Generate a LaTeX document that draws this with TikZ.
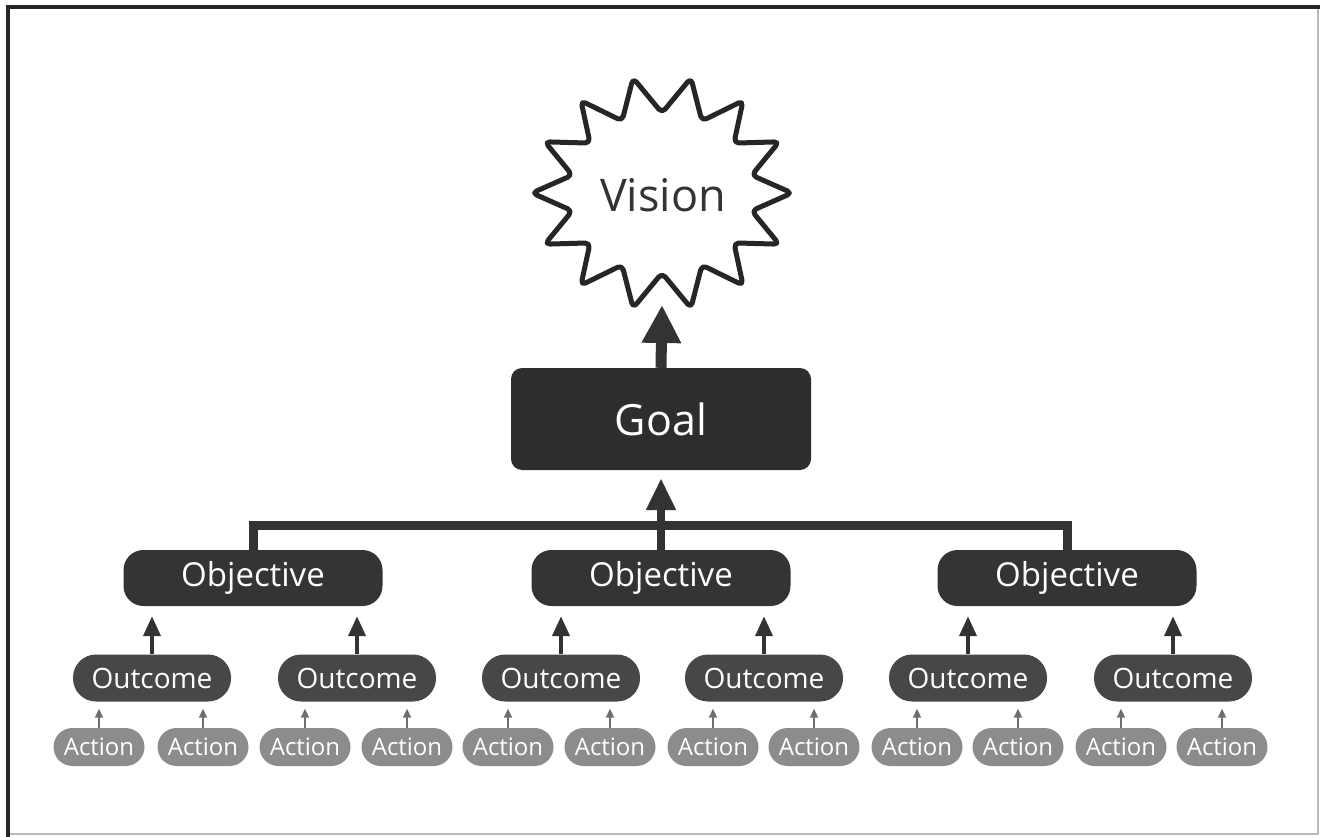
\documentclass[tikz,border=0pt]{standalone}
\usepackage{fontspec}
\setmainfont{Open Sans}
\usetikzlibrary{arrows.meta}
\definecolor{goalc}{HTML}{2E2E2E}
\definecolor{objc}{HTML}{343434}
\definecolor{outc}{HTML}{474747}
\definecolor{actc}{HTML}{8C8C8C}
\definecolor{linec}{HTML}{333333}
\definecolor{thinc}{HTML}{6E6E6E}
\tikzset{
  goalbox/.style={fill=goalc, rounded corners=11pt, minimum width=300pt, minimum height=102pt, inner sep=0pt, text=white, font=\fontsize{43}{46}\selectfont},
  objbox/.style={fill=objc, rounded corners=20pt, minimum width=259pt, minimum height=56pt, inner sep=0pt, text=white, font=\fontsize{33}{36}\selectfont},
  outbox/.style={fill=outc, rounded corners=23pt, minimum width=158pt, minimum height=47pt, inner sep=0pt, text=white, font=\fontsize{28}{31}\selectfont},
  actbox/.style={fill=actc, rounded corners=19pt, minimum width=91pt, minimum height=38pt, inner sep=0pt, text=white, font=\fontsize{24}{27}\selectfont},
  bigarrow/.style={draw=linec, line width=11pt, -{Triangle[width=37pt,length=38pt]}},
  midarrow/.style={draw=linec, line width=8pt, -{Triangle[width=28pt,length=32pt]}},
  smallarrow/.style={draw=linec, line width=4pt, -{Triangle[width=17pt,length=20pt]}},
  tinyarrow/.style={draw=thinc, line width=2pt, -{Triangle[width=8pt,length=9pt]}},
  bus/.style={draw=linec, line width=9pt},
}
\begin{document}
\begin{tikzpicture}[x=1pt,y=-1pt]
\useasboundingbox (0,0) rectangle (1320,837);
\fill[white] (0,0) rectangle (1320,837);
% frame
\draw[gray!55, line width=1.5pt] (8,8) rectangle (1318,834);
\draw[black!85, line width=4pt] (8,837) -- (8,7) -- (1320,7);

% vision starburst
\draw[line width=5pt, draw=black!85, line join=round, rounded corners=5pt, fill=white]
  plot[samples at={0,...,27}, variable=\k]
  ({662+ifthenelse(mod(\k,2)==0,130,92)*cos(\k*360/28)},
   {193-ifthenelse(mod(\k,2)==0,118,80)*sin(\k*360/28)}) -- cycle;
\node[font=\fontsize{45}{48}\selectfont, text=black!80] (vision) at (663,195) {Vision};
\coordinate (vtip) at (662,305);

% goal
\node[goalbox] (goal) at (661,419) {Goal};
\draw[bigarrow] (goal.north) -- (vtip);

% objectives
\node[objbox] (obj1) at (253,578) {Objective};
\node[objbox] (obj2) at (661,578) {Objective};
\node[objbox] (obj3) at (1067,578) {Objective};
\draw[bus] (obj1.north) -- ++(0,-24) -| (obj3.north);
\draw[midarrow, shorten >=8pt] (obj2.north) -- (goal.south);

% outcomes
\foreach \i/\x/\p in {1/152/1, 2/357/1, 3/561/2, 4/764/2, 5/968/3, 6/1173/3} {
  \node[outbox] (out\i) at (\x,678) {Outcome};
  \draw[smallarrow, shorten >=10pt] (out\i.north) -- (out\i.north |- obj\p.south);
}

% actions
\foreach \j/\x/\p in {1/99/1, 2/203/1, 3/305/2, 4/407/2, 5/508/3, 6/610/3, 7/713/4, 8/814/4, 9/917/5, 10/1018/5, 11/1121/6, 12/1222/6} {
  \node[actbox] (act\j) at (\x,747) {Action};
  \draw[tinyarrow, shorten >=7pt] (act\j.north) -- (act\j.north |- out\p.south);
}
\end{tikzpicture}
\end{document}
